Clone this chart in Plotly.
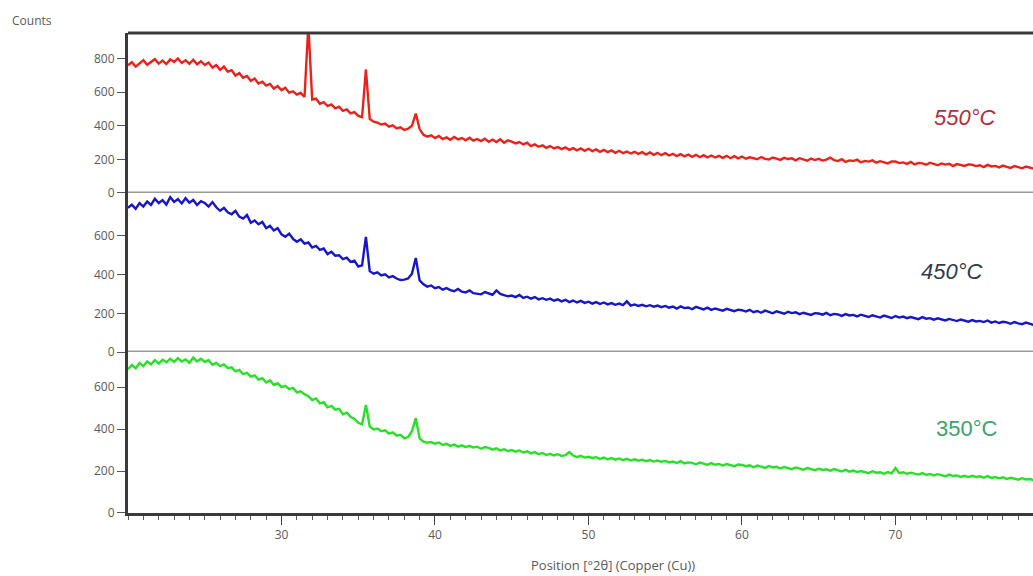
import plotly.graph_objects as go

# ---- data ----
TWO_THETA_START = 20.0
TWO_THETA_STEP = 0.25

RED_550 = [
    760, 778, 752, 771, 790, 763, 781, 796, 770, 788, 767, 795, 779, 801, 774, 790, 769, 793, 766, 784,
    762, 776, 746, 761, 733, 752, 721, 731, 699, 713, 686, 696, 667, 681, 651, 662, 639, 649, 621, 636,
    612, 626, 597, 605, 585, 596, 571, 1000, 556, 561, 531, 541, 517, 527, 504, 513, 489, 497, 474, 481,
    459, 451, 735, 441, 424, 419, 407, 413, 395, 403, 384, 391, 375, 383, 400, 472, 380, 346, 335, 343,
    327, 339, 321, 331, 317, 333, 319, 327, 314, 329, 311, 321, 309, 323, 305, 317, 303, 319, 299, 313,
    306, 295, 303, 289, 299, 279, 289, 275, 283, 269, 279, 265, 273, 261, 271, 257, 267, 254, 265, 251,
    263, 249, 259, 245, 256, 243, 253, 239, 251, 237, 247, 235, 245, 233, 243, 229, 241, 227, 239, 225,
    237, 223, 233, 219, 231, 218, 229, 215, 227, 213, 225, 212, 223, 211, 221, 209, 221, 207, 219, 206,
    217, 204, 212, 208, 201, 214, 203, 199, 211, 205, 197, 209, 202, 206, 194, 207, 199, 192, 205, 196,
    203, 193, 199, 211, 196, 190, 201, 185, 194, 190, 198, 182, 191, 187, 194, 180, 189, 184, 176, 188,
    187, 178, 182, 173, 185, 170, 179, 176, 168, 180, 171, 165, 176, 169, 174, 160, 172, 166, 161, 170,
    168, 160, 165, 154, 167, 158, 161, 152, 163, 155, 149, 160, 153, 147, 157, 150, 144, 152,
]

BLUE_450 = [
    745, 762, 740, 770, 752, 778, 760, 792, 770, 785, 762, 800, 776, 790, 768, 795, 772, 786, 760, 780,
    770, 752, 775, 748, 730, 745, 722, 712, 730, 700, 690, 708, 668, 680, 660, 672, 640, 652, 628, 640,
    608, 596, 612, 585, 570, 582, 560, 566, 540, 548, 528, 535, 506, 518, 498, 500, 480, 488, 466, 472,
    442, 448, 595, 418, 405, 412, 396, 402, 386, 392, 380, 372, 374, 380, 405, 486, 370, 350, 338, 344,
    330, 336, 322, 330, 320, 314, 326, 312, 308, 318, 304, 300, 298, 310, 302, 296, 318, 300, 294, 288,
    292, 284, 295, 280, 286, 276, 284, 272, 278, 270, 276, 265, 272, 262, 270, 258, 266, 256, 264, 254,
    260, 250, 258, 248, 256, 246, 253, 244, 250, 242, 262, 240, 246, 238, 244, 236, 242, 234, 240, 232,
    238, 229, 235, 224, 236, 227, 230, 221, 233, 226, 220, 229, 218, 225, 221, 214, 223, 217, 211, 219,
    216, 209, 218, 206, 212, 203, 214, 207, 200, 210, 204, 198, 208, 201, 205, 196, 203, 199, 192, 201,
    199, 193, 202, 190, 197, 194, 187, 196, 189, 192, 184, 193, 186, 181, 190, 185, 178, 188, 182, 176,
    186, 178, 183, 175, 181, 177, 170, 180, 172, 175, 167, 174, 168, 163, 171, 166, 160, 168, 162, 157,
    165, 158, 161, 155, 163, 152, 158, 150, 156, 153, 146, 155, 148, 144, 152, 145, 140, 148,
]

GREEN_350 = [
    685, 705, 690, 715, 700, 722, 708, 728, 712, 730, 718, 735, 720, 738, 722, 732, 716, 740, 722, 735,
    720, 728, 706, 715, 700, 708, 690, 694, 675, 682, 662, 668, 650, 656, 636, 642, 622, 632, 610, 618,
    600, 606, 590, 596, 575, 580, 566, 556, 538, 546, 522, 528, 503, 510, 492, 496, 470, 478, 458, 448,
    430, 422, 515, 412, 398, 402, 390, 394, 378, 384, 368, 372, 356, 362, 390, 452, 355, 340, 335, 338,
    330, 336, 324, 330, 320, 326, 316, 322, 314, 320, 312, 316, 306, 314, 310, 302, 308, 298, 304, 295,
    300, 292, 298, 288, 294, 284, 290, 280, 286, 276, 282, 274, 280, 272, 276, 290, 274, 266, 272, 264,
    268, 262, 266, 258, 264, 256, 262, 254, 260, 252, 258, 250, 256, 249, 254, 247, 252, 245, 250, 244,
    248, 241, 245, 238, 247, 236, 241, 239, 232, 240, 235, 229, 238, 230, 234, 226, 233, 229, 223, 231,
    229, 223, 227, 218, 226, 221, 215, 224, 217, 220, 212, 219, 214, 209, 217, 211, 206, 214, 208, 204,
    211, 205, 208, 201, 209, 203, 198, 206, 197, 202, 195, 200, 196, 190, 199, 192, 194, 187, 195, 189,
    214, 190, 194, 187, 192, 189, 183, 190, 182, 186, 179, 185, 180, 175, 183, 176, 179, 172, 177, 171,
    177, 172, 175, 168, 176, 167, 171, 165, 170, 162, 168, 164, 159, 166, 160, 162, 156, 161,
]

X_TICKS = [30, 40, 50, 60, 70]
Y_TICKS_TOP = [0, 200, 400, 600, 800]
Y_TICKS_MID = [0, 200, 400, 600]
Y_TICKS_BOT = [0, 200, 400, 600]
LABELS = ["550°C", "450°C", "350°C"]

two_theta = [TWO_THETA_START + TWO_THETA_STEP * i for i in range(len(RED_550))]

fig = go.Figure()
fig.add_trace(go.Scatter(x=two_theta, y=RED_550, mode="lines", yaxis="y3",
                         line=dict(color="#e8231c", width=2.4), showlegend=False))
fig.add_trace(go.Scatter(x=two_theta, y=BLUE_450, mode="lines", yaxis="y2",
                         line=dict(color="#1717c8", width=2.4), showlegend=False))
fig.add_trace(go.Scatter(x=two_theta, y=GREEN_350, mode="lines", yaxis="y",
                         line=dict(color="#27e027", width=2.4), showlegend=False))

tickfont = dict(family="Open Sans, sans-serif", size=12, color="#5a5a5a")
yax_common = dict(showgrid=False, zeroline=False, showline=True, linecolor="#3a3a3a",
                  linewidth=3, ticks="outside", ticklen=8, tickcolor="#555555",
                  tickwidth=1, tickfont=tickfont, anchor="x", fixedrange=True)

fig.update_layout(
    width=1033, height=576,
    margin=dict(l=128, r=0, t=33, b=63),
    paper_bgcolor="white", plot_bgcolor="white",
    xaxis=dict(range=[20, 78.96], tickvals=X_TICKS, ticks="outside", ticklen=9,
               tickcolor="#444444", tickwidth=1, showline=True, linecolor="#3a3a3a",
               linewidth=3, showgrid=False, zeroline=False, tickfont=tickfont,
               minor=dict(tickmode="linear", tick0=20, dtick=1, ticks="outside",
                          ticklen=4, tickcolor="#555555", tickwidth=1),
               anchor="y"),
    yaxis=dict(domain=[0, 0.3354], range=[0, 767], tickvals=Y_TICKS_BOT, **yax_common),
    yaxis2=dict(domain=[0.3354, 0.6667], range=[0, 822], tickvals=Y_TICKS_MID, **yax_common),
    yaxis3=dict(domain=[0.6667, 1.0], range=[0, 952], tickvals=Y_TICKS_TOP, **yax_common),
)

# panel separators (zero lines of upper panels) and top border
fig.add_shape(type="line", xref="paper", yref="y3", x0=0, x1=1, y0=0, y1=0,
              line=dict(color="#9a9a9a", width=3))
fig.add_shape(type="line", xref="paper", yref="y2", x0=0, x1=1, y0=0, y1=0,
              line=dict(color="#9a9a9a", width=3))
fig.add_shape(type="line", xref="paper", yref="paper", x0=0, x1=1, y0=1, y1=1,
              line=dict(color="#3a3a3a", width=3))

label_font = "Liberation Sans, Arial, sans-serif"
fig.add_annotation(text="<i>" + LABELS[0] + "</i>", xref="paper", yref="paper",
                   x=0.925, y=0.825, xanchor="center", yanchor="middle", showarrow=False,
                   font=dict(family=label_font, size=22, color="#b0303c"))
fig.add_annotation(text="<i>" + LABELS[1] + "</i>", xref="paper", yref="paper",
                   x=0.9105, y=0.504, xanchor="center", yanchor="middle", showarrow=False,
                   font=dict(family=label_font, size=22, color="#2f3d4c"))
fig.add_annotation(text=LABELS[2], xref="paper", yref="paper",
                   x=0.927, y=0.177, xanchor="center", yanchor="middle", showarrow=False,
                   font=dict(family=label_font, size=22, color="#3aa46c"))

fig.add_annotation(text="Counts", xref="paper", yref="paper", x=-0.1304, y=1.027,
                   xanchor="left", yanchor="middle", showarrow=False,
                   font=dict(family="Open Sans, sans-serif", size=12, color="#5a5a5a"))
fig.add_annotation(text="Position [°2θ] (Copper (Cu))", xref="paper", yref="paper",
                   x=0.536, y=-0.108, xanchor="center", yanchor="middle", showarrow=False,
                   font=dict(family="Open Sans, sans-serif", size=13, color="#5a5a5a"))

fig.write_html("out.html",
               config={"displayModeBar": False},
               post_script="document.body.style.margin='0';document.body.style.overflow='hidden';")
